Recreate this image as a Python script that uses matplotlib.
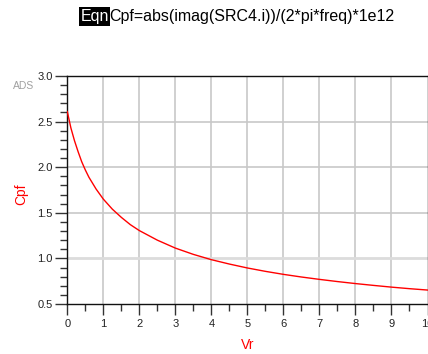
import matplotlib
matplotlib.use("Agg")
import matplotlib.pyplot as plt
from matplotlib.ticker import MultipleLocator

plt.rcParams['font.family'] = ['Liberation Sans', 'DejaVu Sans']

# Reverse voltage (V) and capacitance (pF)
vr = [0, 0.1, 0.2, 0.3, 0.4, 0.5, 0.6, 0.8, 1.0, 1.25, 1.5, 1.75, 2.0,
      2.5, 3.0, 3.5, 4.0, 4.5, 5.0, 5.5, 6.0, 6.5, 7.0, 7.5, 8.0, 8.5,
      9.0, 9.5, 10.0]
cpf = [2.61, 2.43, 2.29, 2.17, 2.06, 1.97, 1.89, 1.76, 1.65, 1.54, 1.45,
       1.37, 1.305, 1.20, 1.113, 1.044, 0.986, 0.938, 0.895, 0.858, 0.825,
       0.796, 0.770, 0.746, 0.724, 0.704, 0.685, 0.668, 0.653]

eqn_text = "Cpf=abs(imag(SRC4.i))/(2*pi*freq)*1e12"

W, H = 428, 354
fig = plt.figure(figsize=(W / 100, H / 100), dpi=100, facecolor='w')
# axes box in pixels: left 67, right 427.5, top 76, bottom 304
ax = fig.add_axes([67.3 / W, 1 - 304 / H, (427.5 - 67.3) / W, (304 - 76) / H])

ax.plot(vr, cpf, color='#ff0000', lw=1.0, zorder=3)

ax.set_xlim(0, 10)
ax.set_ylim(0.5, 3.0)
ax.xaxis.set_major_locator(MultipleLocator(1))
ax.xaxis.set_minor_locator(MultipleLocator(0.5))
ax.yaxis.set_major_locator(MultipleLocator(0.5))
ax.yaxis.set_minor_locator(MultipleLocator(0.1))
ax.yaxis.set_major_formatter(plt.FormatStrFormatter('%.1f'))

ax.tick_params(which='major', direction='out', length=9, width=1,
               color='#333333', labelsize=8, labelcolor='#222222', pad=1.5)
ax.tick_params(axis='x', which='major', length=8, pad=3)
ax.tick_params(which='minor', direction='out', length=5, width=1,
               color='#333333')
ax.tick_params(axis='x', which='minor', length=5)

# grid
for x in range(1, 10):
    ax.axvline(x, color='#c8c8c8', lw=1.2, zorder=1)
for y in [1.5, 2.0, 2.5]:
    ax.axhline(y, color='#c8c8c8', lw=1.2, zorder=1)
ax.axhline(1.0, color='#dcdcdc', lw=2.0, zorder=1)

for s in ax.spines.values():
    s.set_color('#111111')
    s.set_linewidth(1.0)

# axis labels
fig.text(21.5 / W, 1 - 194 / H, "Cpf", color='#ff0000', fontsize=10,
         rotation=90, ha='center', va='center')
fig.text(247.5 / W, 1 - 345 / H, "Vr", color='#ff0000', fontsize=10,
         ha='center', va='center')
fig.text(24 / W, 1 - 86 / H, "ADS", color='#a0a0a0', fontsize=7.5,
         ha='center', va='center')

# equation header
fig.text(80.5 / W, 1 - 16.5 / H, "Eqn", color='w', fontsize=11.5,
         ha='left', va='center',
         bbox=dict(boxstyle='square,pad=0.1', fc='black', ec='none'))
fig.text(109.5 / W, 1 - 16.5 / H, eqn_text, color='black', fontsize=11.5,
         ha='left', va='center')

fig.savefig('out.png', dpi=100)
